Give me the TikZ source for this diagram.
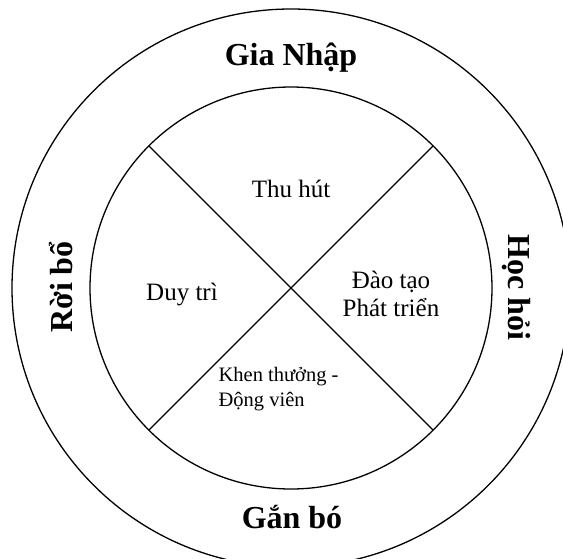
\documentclass[tikz,border=0pt]{standalone}
\usepackage{fontspec}
\setmainfont{Liberation Serif}
\usetikzlibrary{positioning}
\tikzset{
  every picture/.style={line width=1.3pt},
  ring/.style={draw, circle, inner sep=0pt, outer sep=0pt, minimum size=#1},
  stage/.style={font=\bfseries\fontsize{32}{36}\selectfont, inner sep=0pt, anchor=base},
  part/.style={font=\fontsize{25}{28}\selectfont, align=center, inner sep=0pt, anchor=base},
  small/.style={font=\fontsize{20.5}{25}\selectfont, align=left, inner sep=0pt, anchor=base west},
}

\begin{document}
\begin{tikzpicture}[x=1pt, y=-1pt]
  \useasboundingbox (0,0) rectangle (563,558);
  \node[ring=558pt] (outer) at (291,288) {};
  \node[ring=402pt] (inner) at (291,288) {};
  \draw (inner.135) -- (inner.-45);
  \draw (inner.45) -- (inner.-135);
  % outer ring
  \node[stage] (join) at (291,65) {Gia Nhập};
  \node[stage] (stay) at (292,528) {Gắn bó};
  \node[stage, rotate=90] (leave) at (72,287) {Rời bổ};
  \node[stage, rotate=-90] (learn) at (508,287) {Học hỏi};
  % inner quarters
  \node[part] (attract) at (291,197) {Thu hút};
  \node[part] (keep) at (182,300) {Duy trì};
  \node[part, anchor=center] (train) at (391,294) {Đào tạo\\Phát triển};
  \node[small] (reward) at (218,406) {Khen thưởng -\\Động viên};
\end{tikzpicture}
\end{document}
